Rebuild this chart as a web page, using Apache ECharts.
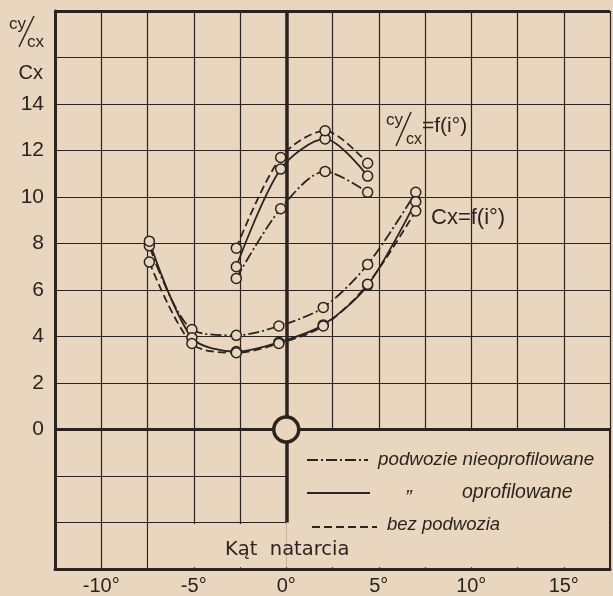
<!DOCTYPE html>
<html><head><meta charset="utf-8">
<script src="https://cdn.jsdelivr.net/npm/echarts@6/dist/echarts.min.js"></script>
<style>html,body{margin:0;padding:0;background:#e9d6bf;}#c{width:613px;height:596px;}</style>
</head><body><div id="c"></div>
<script>
// ---- data ----
const cxAngle = [-7.4, -5.1, -2.7, -0.4, 2.0, 4.4, 7.0];
const cxNieoprofilowane = [7.9, 4.3, 4.05, 4.45, 5.25, 7.1, 10.2];
const cxOprofilowane   = [8.1, 3.95, 3.35, 3.75, 4.5, 6.2, 9.8];
const cxBezPodwozia    = [7.2, 3.7, 3.3, 3.7, 4.45, 6.25, 9.4];

const cyAngle = [-2.7, -0.3, 2.1, 4.4];
const cyCxNieoprofilowane = [6.5, 9.5, 11.1, 10.2];
const cyCxOprofilowane    = [7.0, 11.2, 12.5, 10.9];
const cyCxBezPodwozia     = [7.8, 11.7, 12.85, 11.45];

const xTickLabels = ['-10°', '-5°', '0°', '5°', '10°', '15°'];
const yTickLabels = ['0', '2', '4', '6', '8', '10', '12', '14'];

const PAPER = '#e9d6bf';
const INK = '#2a2420';
const DASHDOT = [11, 3, 2, 3];
const DASHED = [8, 4];

function pairs(xs, ys) { return xs.map((x, i) => [x, ys[i]]); }

function curve(name, xs, ys, dash) {
  return {
    name, type: 'line', smooth: 0.3, z: 3,
    data: pairs(xs, ys),
    symbol: 'circle', symbolSize: 10,
    itemStyle: { color: PAPER, borderColor: INK, borderWidth: 1.5, opacity: 1 },
    lineStyle: { color: INK, width: 1.8, type: dash || 'solid' },
    emphasis: { disabled: true }
  };
}

const chart = echarts.init(document.getElementById('c'));
const FONT = '"Liberation Sans", Arial, sans-serif';

function txt(text, x, y, size, opts) {
  opts = opts || {};
  return {
    type: 'text', x, y, z: 20,
    style: {
      text, fill: INK,
      font: (opts.italic ? 'italic ' : '') + size + 'px ' + (opts.family || FONT),
      align: opts.align || 'left', textAlign: opts.align || 'left',
      verticalAlign: 'middle', textVerticalAlign: 'middle'
    }
  };
}
function seg(x1, y1, x2, y2, w, dash) {
  return { type: 'line', z: 20, shape: { x1, y1, x2, y2 },
    style: { stroke: INK, lineWidth: w, lineDash: dash || null } };
}

chart.setOption({
  backgroundColor: PAPER,
  animation: false,
  grid: { left: 55, top: 11, right: 1, bottom: 27, containLabel: false },
  xAxis: {
    type: 'value', min: -12.5, max: 17.5, interval: 2.5,
    axisLine: { show: true, onZero: false, lineStyle: { color: INK, width: 3 } },
    axisTick: { show: false },
    axisLabel: {
      color: INK, fontFamily: FONT, fontSize: 20, margin: 7,
      formatter: v => (v % 5 === 0 ? xTickLabels[(v + 10) / 5] : '')
    },
    splitLine: { show: true, lineStyle: { color: INK, width: 1.2 } }
  },
  yAxis: {
    type: 'value', min: -6, max: 18, interval: 2,
    axisLine: { show: true, onZero: false, lineStyle: { color: INK, width: 3 } },
    axisTick: { show: false },
    axisLabel: {
      color: INK, fontFamily: FONT, fontSize: 21, margin: 11,
      formatter: v => (v >= 0 && v <= 14 ? yTickLabels[v / 2] : '')
    },
    splitLine: { show: true, lineStyle: { color: INK, width: 1.2 } }
  },
  series: [
    {
      type: 'line', data: [], z: 2, silent: true,
      markArea: {
        silent: true,
        itemStyle: { color: PAPER, opacity: 1 },
        data: [
          [{ coord: [0, -5.92] }, { coord: [17.44, 0] }],
          [{ coord: [-7.45, -5.92] }, { coord: [0, -4.06] }]
        ]
      },
      markLine: {
        silent: true, symbol: 'none', label: { show: false },
        data: [
          [{ coord: [-12.5, 18], lineStyle: { width: 3 } }, { coord: [17.5, 18] }],
          [{ coord: [-12.5, 0], lineStyle: { width: 3.2 } }, { coord: [17.5, 0] }],
          [{ coord: [0, 18], lineStyle: { width: 3.5 } }, { coord: [0, -4] }],
          [{ coord: [17.5, 0], lineStyle: { width: 2 } }, { coord: [17.5, -6] }]
        ],
        lineStyle: { color: INK, type: 'solid' }
      }
    },
    curve('Cx nieoprofilowane', cxAngle, cxNieoprofilowane, DASHDOT),
    curve('Cx oprofilowane', cxAngle, cxOprofilowane, 'solid'),
    curve('Cx bez podwozia', cxAngle, cxBezPodwozia, DASHED),
    curve('Cy/Cx nieoprofilowane', cyAngle, cyCxNieoprofilowane, DASHDOT),
    curve('Cy/Cx oprofilowane', cyAngle, cyCxOprofilowane, 'solid'),
    curve('Cy/Cx bez podwozia', cyAngle, cyCxBezPodwozia, DASHED),
    {
      type: 'scatter', z: 10, zlevel: 0, silent: true, data: [[0, 0]],
      symbol: 'circle', symbolSize: 25,
      itemStyle: { color: PAPER, borderColor: INK, borderWidth: 3.5, opacity: 1 }
    }
  ],
  graphic: [
    // y-axis heading  cy/cx  and  Cx
    txt('cy', 9, 24, 17),
    seg(19, 47, 34, 16, 1.5),
    txt('cx', 27, 42, 17),
    txt('Cx', 43, 73, 20, { align: 'right' }),
    // curve annotations
    txt('cy', 386, 120, 17),
    seg(396, 146, 411, 112, 1.5),
    txt('cx', 406, 140, 16),
    txt('=f(i°)', 422, 126, 21),
    txt('Cx=f(i°)', 431, 218, 22),
    // axis title
    txt('Kąt  natarcia', 225, 550, 19.5, { family: '"DejaVu Sans", sans-serif' }),
    // legend
    seg(307, 460, 368, 460, 1.8, DASHDOT),
    txt('podwozie nieoprofilowane', 378, 460, 18.8, { italic: true }),
    seg(307, 493, 370, 493, 1.8),
    txt('„', 407, 486, 20, { italic: true }),
    txt('oprofilowane', 462, 493, 19.5, { italic: true }),
    seg(312, 527, 377, 527, 1.8, DASHED),
    txt('bez podwozia', 387, 525, 18.5, { italic: true })
  ]
});
</script>
</body></html>
